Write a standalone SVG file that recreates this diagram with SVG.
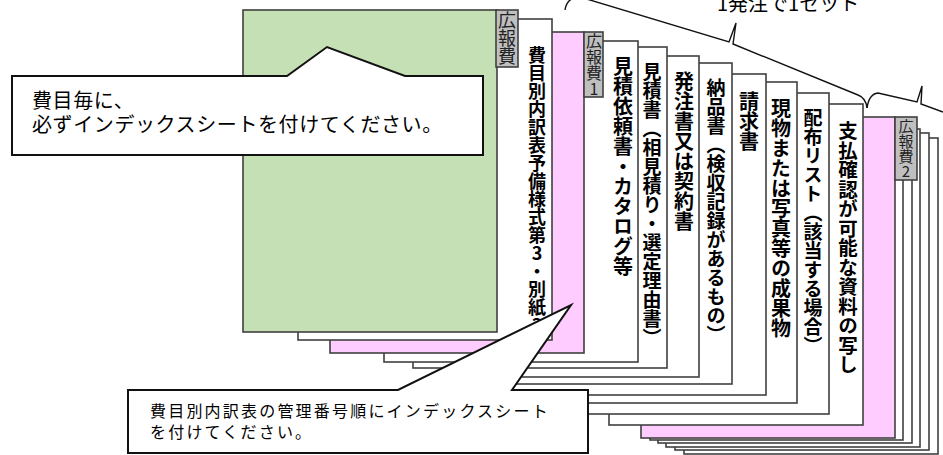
<svg xmlns="http://www.w3.org/2000/svg" width="943" height="455" viewBox="0 0 943 455">
<style>
.pg{stroke:#404040;stroke-width:1.6;fill:#ffffff}
.green{fill:#c5e0b4}
.pink{fill:#ffccff}
.tab{fill:#bfbfbf;stroke:#404040;stroke-width:1.6}
.vt{font-family:"Noto Sans CJK JP",sans-serif;writing-mode:vertical-rl;text-orientation:upright;font-weight:bold;font-size:20px;fill:#000}
.vm{text-orientation:mixed;font-size:19px}
.tt{font-family:"Noto Sans CJK JP",sans-serif;writing-mode:vertical-rl;text-orientation:upright;fill:#222}
.co{fill:#fff;stroke:#111;stroke-width:2}
.ct{font-family:"Noto Sans CJK JP",sans-serif;fill:#000}
.br{fill:none;stroke:#111;stroke-width:1.4}
</style>
<rect width="943" height="455" fill="#fff"/>
<g id="connectors">
<path class="br" d="M565,10 Q567,-3 580,-3 L729,42 L736,23 L733,44 L858,95 Q866,98 867,108"/>
<path class="br" d="M867,108 Q869,94 878,93 L917,102 L922,86 L921,104 L943,112"/>
</g>
<text id="label-set" class="ct" x="717" y="11" font-size="20" font-family="Liberation Serif, Noto Sans CJK JP, serif">1発注で1セット</text>
<g id="page17"><rect class="pg" x="684" y="138" width="254" height="316"/></g>
<g id="page16"><rect class="pg" x="675" y="133" width="254" height="317"/></g>
<g id="page15"><rect class="pg" x="666" y="129" width="254" height="318"/></g>
<g id="page14"><rect class="pg" x="658" y="124" width="254" height="319"/></g>
<g id="page13"><rect class="pg" x="650" y="120" width="253" height="320"/></g>
<g id="index2"><rect class="pg pink" x="641" y="117" width="254" height="321"/><rect class="tab" x="895" y="117" width="22" height="63"/><text class="tt" x="906" y="119" font-size="15">広報費2</text></g>
<g id="page11"><rect class="pg" x="609" y="104" width="254" height="321"/><text class="vt" x="848" y="121" style="font-size:19.5px">支払確認が可能な資料の写し</text></g>
<g id="page10"><rect class="pg" x="575" y="93" width="254" height="321"/><text class="vt vm" x="813" y="108">配布リスト（該当する場合）</text></g>
<g id="page9"><rect class="pg" x="543" y="82" width="254" height="321"/><text class="vt" x="781" y="98">現物または写真等の成果物</text></g>
<g id="page8"><rect class="pg" x="512" y="74" width="254" height="321"/><text class="vt" x="749" y="91">請求書</text></g>
<g id="page7"><rect class="pg" x="478" y="63" width="254" height="321"/><text class="vt vm" x="716" y="78">納品書（検収記録があるもの）</text></g>
<g id="page6"><rect class="pg" x="445" y="56" width="254" height="321"/><text class="vt" x="684" y="71">発注書又は契約書</text></g>
<g id="page5"><rect class="pg" x="413" y="47" width="254" height="321"/><text class="vt vm" x="652" y="62">見積書（相見積り・選定理由書）</text></g>
<g id="page4"><rect class="pg" x="384" y="41" width="254" height="321"/><text class="vt" x="623" y="56">見積依頼書・カタログ等</text></g>
<g id="index1"><rect class="pg pink" x="330" y="32" width="254" height="321"/><rect class="tab" x="584" y="32" width="19" height="65"/><text class="tt" x="594" y="33" font-size="16">広報費1</text></g>
<g id="page2"><rect class="pg" x="298" y="19" width="254" height="321"/><text class="vt" x="537" y="46" style="font-size:18px">費目別内訳表予備様式第3・別紙3</text></g>
<g id="index0"><rect class="pg green" x="243" y="10" width="254" height="322"/><rect class="tab" x="496" y="10" width="22" height="57"/><text class="tt" x="507" y="11" font-size="18">広報費</text></g>
<g id="callout1">
<path class="co" d="M12,76 L287,76 L327,47 L405,76 L483,76 L483,155 L12,155 Z"/>
<text class="ct" x="32" y="108" font-size="20" letter-spacing="0.6">費目毎に、</text>
<text class="ct" x="32" y="132" font-size="20" letter-spacing="0.6">必ずインデックスシートを付けてください。</text>
</g>
<g id="callout2">
<path class="co" d="M128,390 L398,390 L571,305 L512,390 L588,390 L588,453 L128,453 Z"/>
<text class="ct" x="150" y="417" font-size="16" letter-spacing="2.2">費目別内訳表の管理番号順にインデックスシート</text>
<text class="ct" x="150" y="438" font-size="16" letter-spacing="2.2">を付けてください。</text>
</g>
</svg>
